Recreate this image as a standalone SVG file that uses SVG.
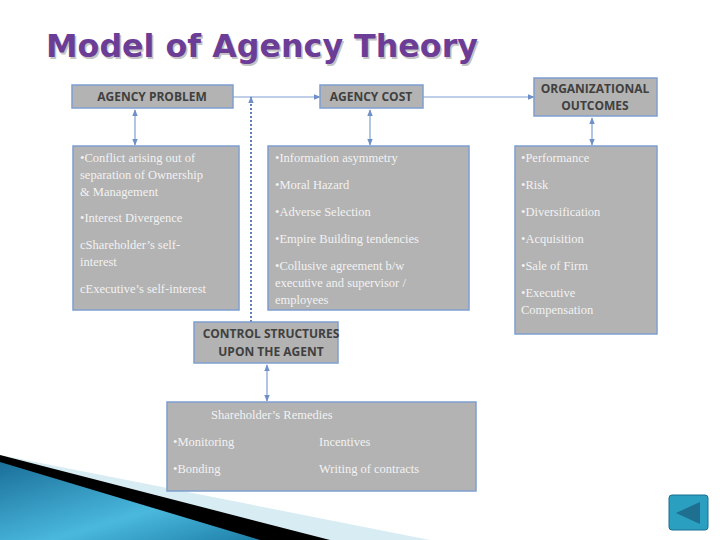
<svg xmlns="http://www.w3.org/2000/svg" width="720" height="540" viewBox="0 0 720 540">
<style>
.b{fill:#b3b3b3;stroke:#7f9fcf;stroke-width:1.5}
.h{font-family:"Open Sans","Liberation Sans",sans-serif;font-weight:bold;font-size:12px;fill:#404040;text-anchor:middle}
.t{font-family:"Liberation Serif",serif;font-size:12.5px;fill:#f2f2f2}
.c{stroke:#7f9fcf;stroke-width:1.2;fill:none}
</style>
<defs>
<marker id="a" viewBox="0 0 10 10" refX="9" refY="5" markerWidth="6" markerHeight="6" orient="auto-start-reverse"><path d="M0,1L10,5L0,9z" fill="#6f8fc8"/></marker>
<marker id="d" viewBox="0 0 10 10" refX="9" refY="5" markerWidth="3.5" markerHeight="3.5" orient="auto"><path d="M0,1L10,5L0,9z" fill="#6f8fc8"/></marker>
<linearGradient id="g" x1="0" y1="0" x2="1" y2="1"><stop offset="0" stop-color="#1a6f99"/><stop offset="0.6" stop-color="#4ab8dd"/><stop offset="1" stop-color="#1e7fa8"/></linearGradient>
</defs>
<rect width="720" height="540" fill="#fff"/>
<polygon points="0,455 430,540 0,540" fill="#d8ecf3"/>
<polygon points="0,455 330,540 0,540" fill="#000"/>
<polygon points="0,462 260,540 0,540" fill="url(#g)"/>
<text x="46" y="57" font-family="DejaVu Sans,sans-serif" font-weight="bold" font-size="32" textLength="432" lengthAdjust="spacingAndGlyphs" fill="#c4c4c4" transform="translate(1.5,1.5)">Model of Agency Theory</text>
<text x="46" y="57" font-family="DejaVu Sans,sans-serif" font-weight="bold" font-size="32" textLength="432" lengthAdjust="spacingAndGlyphs" fill="#6b3d97">Model of Agency Theory</text>
<g id="connectors">
<line class="c" x1="233" y1="97" x2="320" y2="97" marker-end="url(#a)"/>
<line class="c" x1="423" y1="97" x2="534" y2="97" marker-end="url(#a)"/>
<line x1="251" y1="322" x2="251" y2="97" stroke="#5f7fb8" stroke-dasharray="2,2" stroke-width="2" marker-end="url(#d)"/>
<line class="c" x1="135" y1="110" x2="135" y2="145" marker-start="url(#a)" marker-end="url(#a)"/>
<line class="c" x1="370" y1="110" x2="370" y2="145" marker-start="url(#a)" marker-end="url(#a)"/>
<line class="c" x1="592" y1="118" x2="592" y2="145" marker-start="url(#a)" marker-end="url(#a)"/>
<line class="c" x1="267" y1="365" x2="267" y2="401" marker-start="url(#a)" marker-end="url(#a)"/>
</g>
<g id="agency-problem"><rect class="b" x="72" y="85" width="161" height="23"/><text class="h" x="152" y="101">AGENCY PROBLEM</text></g>
<g id="agency-cost"><rect class="b" x="320" y="85" width="103" height="23"/><text class="h" x="371" y="101">AGENCY COST</text></g>
<g id="org-outcomes"><rect class="b" x="534" y="78" width="123" height="38"/><text class="h" x="595" y="93">ORGANIZATIONAL</text><text class="h" x="595" y="110">OUTCOMES</text></g>
<g id="problem-details"><rect class="b" x="73" y="146" width="166" height="164"/>
<text class="t" x="80" y="162">•Conflict arising out of</text><text class="t" x="80" y="179">separation of Ownership</text><text class="t" x="80" y="196">&amp; Management</text>
<text class="t" x="80" y="222">•Interest Divergence</text><text class="t" x="80" y="249">cShareholder’s self-</text><text class="t" x="80" y="266">interest</text><text class="t" x="80" y="293">cExecutive’s self-interest</text></g>
<g id="cost-details"><rect class="b" x="268" y="146" width="201" height="164"/>
<text class="t" x="275" y="162">•Information asymmetry</text><text class="t" x="275" y="189">•Moral Hazard</text><text class="t" x="275" y="216">•Adverse Selection</text><text class="t" x="275" y="243">•Empire Building tendencies</text>
<text class="t" x="275" y="270">•Collusive agreement b/w</text><text class="t" x="275" y="287">executive and supervisor /</text><text class="t" x="275" y="304">employees</text></g>
<g id="outcome-details"><rect class="b" x="515" y="146" width="142" height="188"/>
<text class="t" x="521" y="162">•Performance</text><text class="t" x="521" y="189">•Risk</text><text class="t" x="521" y="216">•Diversification</text><text class="t" x="521" y="243">•Acquisition</text><text class="t" x="521" y="270">•Sale of Firm</text><text class="t" x="521" y="297">•Executive</text><text class="t" x="521" y="314">Compensation</text></g>
<g id="control"><rect class="b" x="194" y="322" width="144" height="41"/><text class="h" x="271" y="338">CONTROL STRUCTURES</text><text class="h" x="271" y="356">UPON THE AGENT</text></g>
<g id="remedies"><rect class="b" x="167" y="402" width="309" height="89"/>
<text class="t" x="211" y="419">Shareholder’s Remedies</text><text class="t" x="173" y="446">•Monitoring</text><text class="t" x="319" y="446">Incentives</text><text class="t" x="173" y="473">•Bonding</text><text class="t" x="319" y="473">Writing of contracts</text></g>
<g id="nav"><rect x="669" y="495" width="39" height="35" rx="3" fill="#2a9fc0" stroke="#1a6f90"/><polygon points="700,502 676,513 700,524" fill="#1f6f90"/></g>
</svg>
